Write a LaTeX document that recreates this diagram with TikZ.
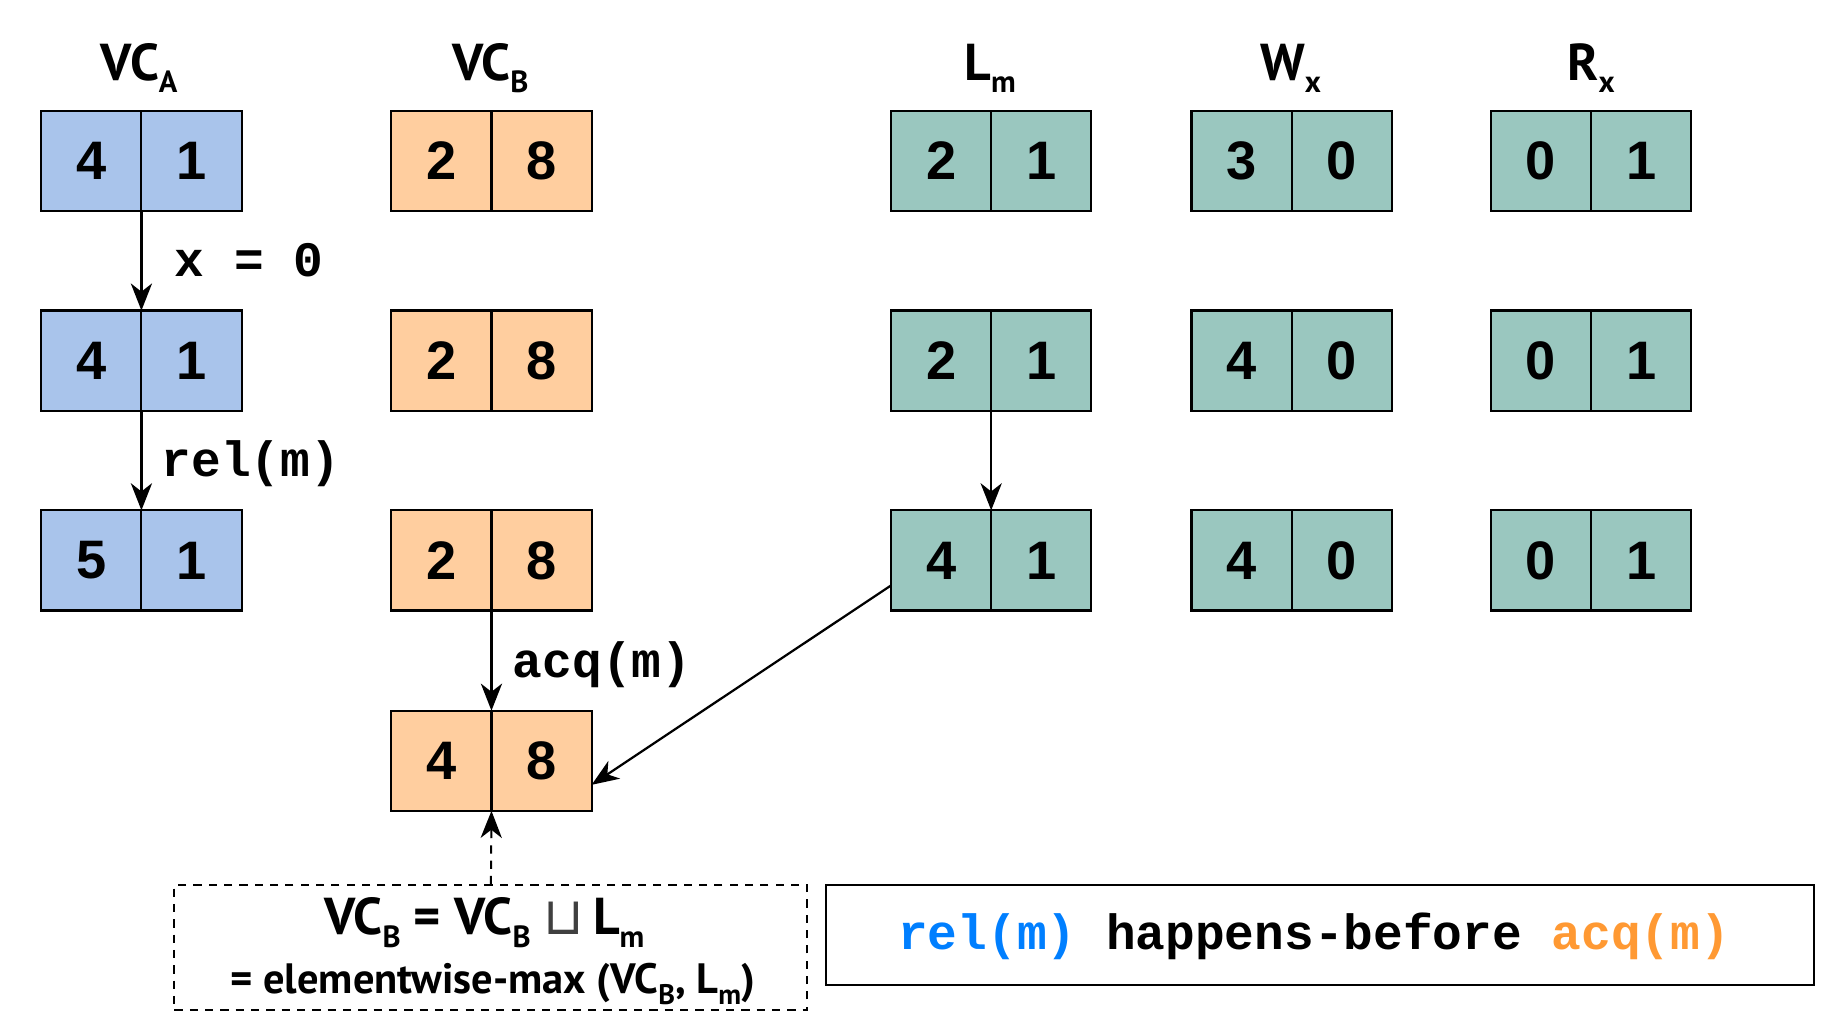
\documentclass[tikz,border=0pt]{standalone}
\usepackage{fontspec}
\setmainfont{Liberation Sans}
\newfontfamily\numfont{Liberation Sans}
\newfontfamily\ttlfont{PT Sans}
\newfontfamily\codefont{Liberation Mono}
\newfontfamily\symfont{DejaVu Sans}
\usetikzlibrary{arrows.meta,calc}
\definecolor{vcblue}{HTML}{A9C4EB}
\definecolor{vcorange}{HTML}{FFCE9F}
\definecolor{vcteal}{HTML}{9AC7BF}
\definecolor{relblue}{HTML}{007FFF}
\definecolor{acqorange}{HTML}{FF9933}
\newcommand\subs[1]{\raisebox{-0.24em}{\fontsize{26}{26}\selectfont #1}}
\newcommand\subsm[1]{\raisebox{-0.25em}{\fontsize{24}{24}\selectfont #1}}
\tikzset{
  cellbox/.style={draw=black,line width=1.8pt,minimum width=85pt,minimum height=85pt,inner sep=0pt,
    outer sep=0pt,font=\fontsize{46}{46}\numfont\bfseries},
  ttl/.style={inner sep=0pt,anchor=base,font=\fontsize{44}{44}\ttlfont\bfseries},
  code/.style={inner sep=0pt,anchor=base west,font=\fontsize{42}{42}\codefont\bfseries},
  tipshape/.style={-{Stealth[length=23pt,width=18pt,inset=7pt]}},
  arr/.style={line width=1.9pt,tipshape},
}
\newcommand\cellpair[6]{%
  \node[cellbox,fill=#4] (#1L) at (#2,#3) {#5};
  \node[cellbox,fill=#4,anchor=west] (#1R) at (#1L.east) {#6};
}
\begin{document}
\begin{tikzpicture}[x=1pt,y=-1pt]
\useasboundingbox[fill=white] (0,0) rectangle (1568,877);
% titles
\node[ttl] (tA) at (118,68) {VC\subs{A}};
\node[ttl] (tB) at (416,68) {VC\subs{B}};
\node[ttl] (tL) at (840,68) {L\subs{m}};
\node[ttl] (tW) at (1095,68) {W\subs{x}};
\node[ttl] (tR) at (1350,68) {R\subs{x}};
% VC_A
\cellpair{a1}{77.5}{136.5}{vcblue}{4}{1}
\cellpair{a2}{77.5}{306}{vcblue}{4}{1}
\cellpair{a3}{77.5}{475.5}{vcblue}{5}{1}
% VC_B
\cellpair{b1}{374.5}{136.5}{vcorange}{2}{8}
\cellpair{b2}{374.5}{306}{vcorange}{2}{8}
\cellpair{b3}{374.5}{475.5}{vcorange}{2}{8}
\cellpair{b4}{374.5}{645.5}{vcorange}{4}{8}
% L_m
\cellpair{l1}{798.5}{136.5}{vcteal}{2}{1}
\cellpair{l2}{798.5}{306}{vcteal}{2}{1}
\cellpair{l3}{798.5}{475.5}{vcteal}{4}{1}
% W_x
\cellpair{w1}{1053.5}{136.5}{vcteal}{3}{0}
\cellpair{w2}{1053.5}{306}{vcteal}{4}{0}
\cellpair{w3}{1053.5}{475.5}{vcteal}{4}{0}
% R_x
\cellpair{r1}{1307.5}{136.5}{vcteal}{0}{1}
\cellpair{r2}{1307.5}{306}{vcteal}{0}{1}
\cellpair{r3}{1307.5}{475.5}{vcteal}{0}{1}
% arrows
\draw[arr] (a1L.south east) -- (a2L.north east);
\draw[arr] (a2L.south east) -- (a3L.north east);
\draw[arr] (b3L.south east) -- (b4L.north east);
\draw[arr] (l2L.south east) -- (l3L.north east);
\draw[arr] ($(l3L.south west)!0.25!(l3L.north west)$) -- ($(b4R.south east)!0.26!(b4R.north east)$);
% labels
\node[code] (lx) at (148,235) {x = 0};
\node[code] (lrel) at (137,404) {rel(m)};
\node[code] (lacq) at (435,575) {acq(m)};
% dashed box
\node[draw=black,line width=1.6pt,minimum width=537pt,minimum height=106pt,inner sep=0pt,
  dash pattern=on 7pt off 6pt] (dbox) at (416.5,804) {};
\draw[line width=1.7pt,dash pattern=on 7pt off 6pt,tipshape] (dbox.north) -- (b4L.south east);
\node[ttl] (eq1) at (411,793) {VC\subs{B} = VC\subs{B} {\symfont\mdseries\color{black!75}⊔}\,L\subs{m}};
\node[ttl,font=\fontsize{36}{36}\ttlfont\bfseries] (eq2) at (418,843) {= elementwise-max (VC\subsm{B}, L\subsm{m})};
% result box
\node[draw=black,line width=1.8pt,minimum width=838pt,minimum height=85pt,inner sep=0pt] (hb) at (1120,793.5) {};
\node[inner sep=0pt,anchor=base,font=\fontsize{42}{42}\codefont\bfseries] (hbt) at (1115,806)
  {\textcolor{relblue}{rel(m)} happens-before \textcolor{acqorange}{acq(m)}};
\end{tikzpicture}
\end{document}
